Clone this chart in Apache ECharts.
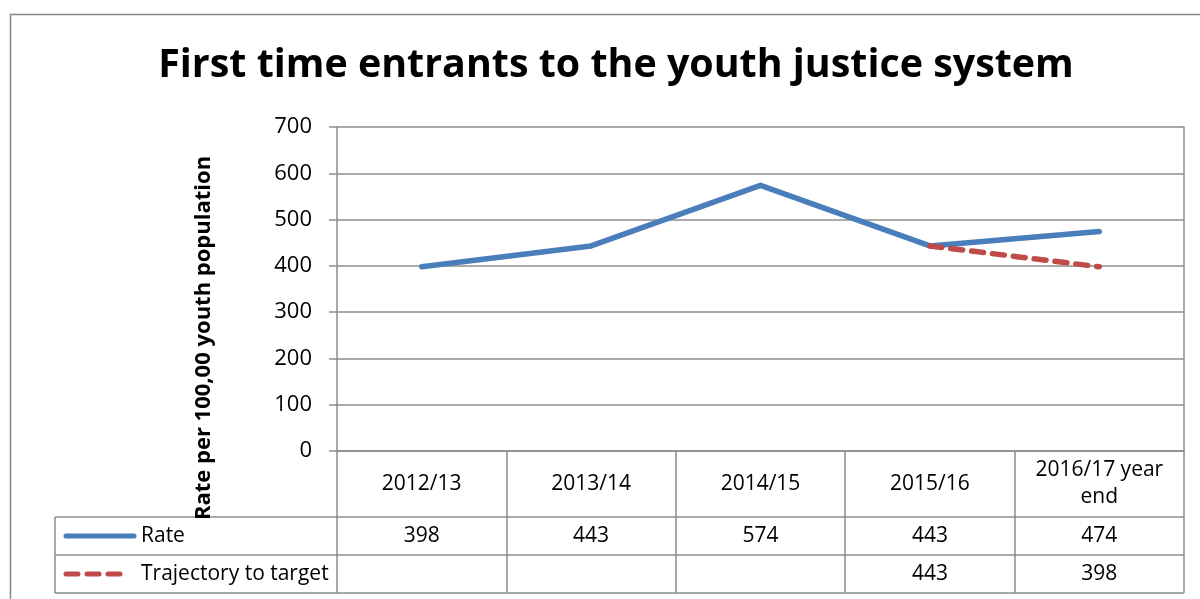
<!DOCTYPE html>
<html>
<head>
<meta charset="utf-8">
<script src="https://cdn.jsdelivr.net/npm/echarts@6/dist/echarts.min.js"></script>
<style>
  html, body { margin: 0; padding: 0; background: #fff; }
  #chart { width: 1200px; height: 599px; }
</style>
</head>
<body>
<div id="chart"></div>
<script>
// Financial years shown along the x axis / table header
const categories = ['2012/13', '2013/14', '2014/15', '2015/16', '2016/17 year\nend'];
// Rate per 100,000 youth population
const rateValues = [398, 443, 574, 443, 474];
// Target trajectory (only defined for the last two years)
const trajectoryValues = [null, null, null, 443, 398];
const seriesNames = ['Rate', 'Trajectory to target'];
const yTicks = { min: 0, max: 700, interval: 100 };

const FONT = '"Open Sans", "Liberation Sans", sans-serif';
const GRID_COLOR = '#8c8c8c';
const RATE_COLOR = '#4A7EBB';
const TRAJ_COLOR = '#BE4B48';

const chart = echarts.init(document.getElementById('chart'), null, { renderer: 'canvas' });

const option = {
  animation: false,
  backgroundColor: '#fff',
  title: {
    text: 'First time entrants to the youth justice system',
    left: 611, top: 41, textAlign: 'center',
    textStyle: { fontFamily: FONT, fontWeight: 'bold', fontSize: 39.4, color: '#000' }
  },
  grid: { left: 337, top: 127, width: 847, height: 324, containLabel: false },
  xAxis: {
    type: 'category',
    data: categories,
    boundaryGap: true,
    axisLine: { show: true, lineStyle: { color: GRID_COLOR, width: 1.5 } },
    // band-boundary ticks run down through the data table as its column rules
    axisTick: { show: true, interval: 0, alignWithLabel: false, length: 142, lineStyle: { color: GRID_COLOR, width: 1.5 } },
    axisLabel: {
      interval: 0, margin: 33, verticalAlign: 'middle', align: 'center',
      fontFamily: FONT, fontSize: 21, color: '#000', lineHeight: 27
    },
    splitLine: { show: false }
  },
  yAxis: [{
    type: 'value',
    min: yTicks.min, max: yTicks.max, interval: yTicks.interval,
    axisLine: { show: true, lineStyle: { color: GRID_COLOR, width: 1.5 } },
    axisTick: { show: true, length: 8, lineStyle: { color: GRID_COLOR, width: 1.5 } },
    axisLabel: { margin: 25, fontFamily: FONT, fontSize: 22, color: '#000' },
    splitLine: { show: true, lineStyle: { color: GRID_COLOR, width: 1.5 } }
  }, {
    type: 'value', position: 'right',
    min: yTicks.min, max: yTicks.max, interval: yTicks.interval,
    axisLine: { show: true, lineStyle: { color: GRID_COLOR, width: 1.5 } },
    axisTick: { show: false }, axisLabel: { show: false }, splitLine: { show: false }
  }],
  series: [{
    name: seriesNames[0], type: 'line', data: rateValues,
    symbol: 'none', z: 3,
    lineStyle: { color: RATE_COLOR, width: 5.5, cap: 'round', join: 'round' }
  }, {
    name: seriesNames[1], type: 'line', data: trajectoryValues,
    symbol: 'none', connectNulls: false, z: 4,
    lineStyle: { color: TRAJ_COLOR, width: 5.5, type: [12, 9], cap: 'round' }
  }]
};
chart.setOption(option);

// Data table beneath the plot, laid out from the axis positions
const zeroY = chart.convertToPixel({ yAxisIndex: 0 }, 0);
const leftX = chart.convertToPixel({ xAxisIndex: 0 }, 0) - 847 / categories.length / 2;
const rightX = leftX + 847;
const rowTop = zeroY + 66;
const rowH = 38;
const tableLeft = 55;
const lineStyle = { stroke: GRID_COLOR, lineWidth: 1.5 };

const graphics = [];
// outer chart frame
graphics.push({ type: 'rect', shape: { x: 10.5, y: 14.5, width: 1300, height: 700 }, style: { fill: null, stroke: '#868686', lineWidth: 1.5 }, silent: true, z: 0 });
// row rules
[rowTop, rowTop + rowH, rowTop + 2 * rowH].forEach(y => {
  graphics.push({ type: 'line', shape: { x1: tableLeft, y1: y, x2: rightX, y2: y }, style: lineStyle, silent: true });
});
// left edge of the legend column
graphics.push({ type: 'line', shape: { x1: tableLeft, y1: rowTop, x2: tableLeft, y2: rowTop + 2 * rowH }, style: lineStyle, silent: true });

const rows = [
  { name: seriesNames[0], values: rateValues, color: RATE_COLOR, dash: null, keyEnd: 134 },
  { name: seriesNames[1], values: trajectoryValues, color: TRAJ_COLOR, dash: [12, 9], keyEnd: 125 }
];
rows.forEach((row, r) => {
  const cy = rowTop + rowH * r + rowH / 2;
  graphics.push({ type: 'line', shape: { x1: 66, y1: cy, x2: row.keyEnd, y2: cy },
    style: { stroke: row.color, lineWidth: 5, lineCap: 'round', lineDash: row.dash }, silent: true });
  graphics.push({ type: 'text', x: 141, y: cy, style: { text: row.name, fontFamily: FONT, fontSize: 21, fill: '#000', align: 'left', verticalAlign: 'middle' }, silent: true });
  row.values.forEach((v, i) => {
    if (v == null) return;
    const cx = chart.convertToPixel({ xAxisIndex: 0 }, i);
    graphics.push({ type: 'text', x: cx, y: cy, style: { text: String(v), fontFamily: FONT, fontSize: 21, fill: '#000', align: 'center', verticalAlign: 'middle' }, silent: true });
  });
});

// y axis title
graphics.push({ type: 'text', x: 204, y: 338, rotation: Math.PI / 2,
  style: { text: 'Rate per 100,00 youth population', fontFamily: FONT, fontWeight: 'bold', fontSize: 22, fill: '#000', align: 'center', verticalAlign: 'middle' }, silent: true, z: 10 });

chart.setOption({ graphic: graphics });
</script>
</body>
</html>
